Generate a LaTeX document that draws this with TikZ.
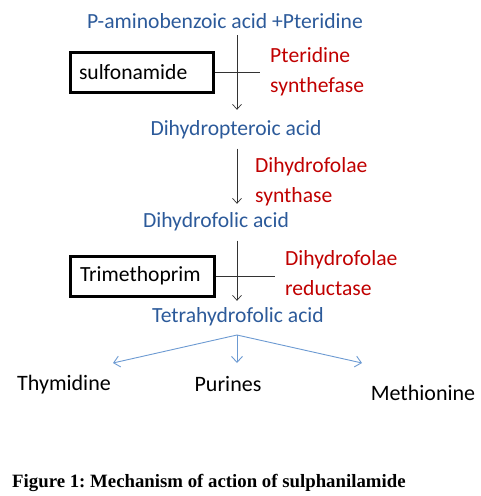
\documentclass[tikz,border=0pt]{standalone}
\usepackage{fontspec}
\setmainfont{Carlito}
\newfontfamily\capfont{Liberation Serif}
\usetikzlibrary{arrows.meta}
\definecolor{bluetxt}{HTML}{2C5A9A}
\definecolor{redtxt}{HTML}{C00000}
\definecolor{branch}{HTML}{6C9AD2}
\frenchspacing
\begin{document}
\begin{tikzpicture}[x=1pt,y=-1pt,
  txt/.style={inner sep=0pt,font=\fontsize{21.6}{30}\selectfont},
  met/.style={txt,text=bluetxt,anchor=base},
  enz/.style={txt,text=redtxt,align=left,anchor=west},
  prod/.style={inner sep=0pt,font=\fontsize{22}{26}\selectfont,text=black,anchor=base},
  drug/.style={draw=black,line width=3pt,inner ysep=0pt,minimum height=40pt,align=left,font=\fontsize{21.6}{26}\selectfont},
  arr/.style={-{Straight Barb[length=5pt,width=9pt]},line width=0.7pt,black!80},
  inh/.style={line width=0.7pt,black!80},
  br/.style={-{Straight Barb[length=6pt,width=11pt]},line width=0.9pt,branch}
]
\useasboundingbox (0,0) rectangle (481,496);
\coordinate (ax) at (237,0);
% metabolites
\node[met] (pab) at (225,28) {P-aminobenzoic acid +Pteridine};
\node[met] (dpa) at (236,135) {Dihydropteroic acid};
\node[met] (dfa) at (216,227) {Dihydrofolic acid};
\node[met] (tfa) at (238,322) {Tetrahydrofolic acid};
% drugs
\node[drug,text width=125pt,inner xsep=9pt] (sulf) at (141.5,72) {sulfonamide};
\node[drug,text width=124pt,inner xsep=10pt] (tmp) at (142,276) {Trimethoprim};
% enzymes
\node[enz] (e1) at (270,72) {Pteridine\\synthefase};
\node[enz] (e2) at (255,182) {Dihydrofolae\\synthase};
\node[enz] (e3) at (285,273) {Dihydrofolae\\reductase};
% products
\node[prod] (thy) at (64,390) {Thymidine};
\node[prod] (pur) at (228,391) {Purines};
\node[prod] (met) at (423,400) {Methionine};
% caption
\node[inner sep=0pt,anchor=base west,font=\fontsize{18.8}{22}\selectfont\capfont\bfseries] (cap) at (12,487) {Figure 1: Mechanism of action of sulphanilamide};
% main arrows
\draw[arr] ([yshift=-7pt]pab.south -| ax) -- ([yshift=10pt]dpa.north -| ax);
\draw[arr] ([yshift=-10pt]dpa.south -| ax) -- ([yshift=8pt]dfa.north -| ax);
\draw[arr] ([yshift=-10pt]dfa.south -| ax) -- ([yshift=6pt]tfa.north -| ax);
% inhibition lines
\coordinate (i1) at (260,0);
\coordinate (i2) at (275,0);
\draw[inh] (sulf.east) -- (sulf.east -| i1);
\draw[inh] (tmp.east) -- (tmp.east -| i2);
% branches
\coordinate (apex) at (237,335);
\coordinate (t1) at (113,363);
\coordinate (t2) at (237,363);
\coordinate (t3) at (362,363);
\draw[br] (apex) -- (t1);
\draw[br] (apex) -- (t2);
\draw[br] (apex) -- (t3);
\end{tikzpicture}
\end{document}
